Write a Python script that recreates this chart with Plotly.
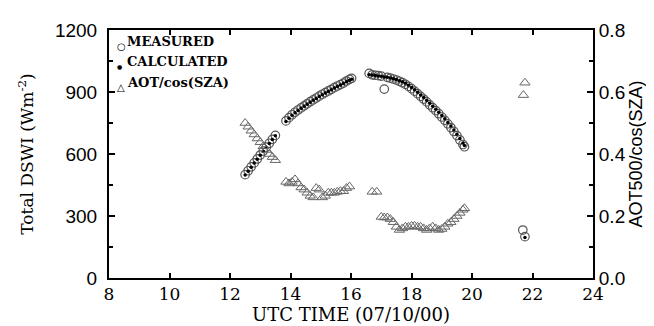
import plotly.graph_objects as go

# ---- data ----
meas_time = [12.5, 12.6, 12.7, 12.8, 12.9, 13.0, 13.1, 13.2, 13.3, 13.4, 13.5,
             13.85, 13.95, 14.05, 14.15, 14.25, 14.35, 14.45, 14.55, 14.65, 14.75, 14.85,
             14.95, 15.05, 15.15, 15.25, 15.35, 15.45, 15.55, 15.65, 15.75, 15.85, 15.95, 16.02,
             16.6, 16.7, 16.8, 16.9, 17.0, 17.1, 17.2, 17.3, 17.4, 17.5, 17.6, 17.7, 17.8, 17.9,
             18.0, 18.1, 18.2, 18.3, 18.4, 18.5, 18.6, 18.7, 18.8, 18.9, 19.0, 19.1, 19.2, 19.3,
             19.4, 19.5, 19.6, 19.7, 19.75,
             21.68, 21.75]
meas_dswi = [500, 519, 538, 557, 576, 595, 614, 633, 652, 671, 690,
             760, 776, 790, 802, 813, 823, 833, 843, 853, 862, 871,
             880, 889, 897, 905, 913, 921, 929, 936, 943, 953, 961, 966,
             990, 983, 981, 979, 977, 914, 971, 967, 963, 958, 952, 945, 937, 927,
             916, 904, 892, 879, 866, 852, 838, 824, 810, 795, 779, 763, 746, 728,
             709, 689, 668, 646, 635,
             232, 200]

calc_time = [12.5, 12.6, 12.7, 12.8, 12.9, 13.0, 13.1, 13.2, 13.3, 13.4, 13.5,
             13.85, 13.95, 14.05, 14.15, 14.25, 14.35, 14.45, 14.55, 14.65, 14.75, 14.85,
             14.95, 15.05, 15.15, 15.25, 15.35, 15.45, 15.55, 15.65, 15.75, 15.85, 15.95, 16.02,
             16.6, 16.7, 16.8, 16.9, 17.0, 17.1, 17.2, 17.3, 17.4, 17.5, 17.6, 17.7, 17.8, 17.9,
             18.0, 18.1, 18.2, 18.3, 18.4, 18.5, 18.6, 18.7, 18.8, 18.9, 19.0, 19.1, 19.2, 19.3,
             19.4, 19.5, 19.6, 19.7, 19.75,
             21.75]
calc_dswi = [498, 517, 536, 556, 575, 594, 613, 632, 651, 670, 688,
             757, 773, 787, 799, 811, 821, 831, 841, 851, 860, 869,
             878, 887, 895, 903, 911, 919, 927, 934, 941, 950, 957, 962,
             984, 982, 980, 978, 976, 973, 971, 968, 964, 960, 955, 949, 942, 933,
             922, 911, 899, 886, 873, 859, 845, 831, 817, 802, 786, 770, 753, 735,
             716, 696, 675, 653, 641,
             196]

aot_time = [12.5, 12.6, 12.7, 12.8, 12.9, 13.0, 13.1, 13.2, 13.3, 13.4, 13.5,
            13.85, 13.95, 14.05, 14.15, 14.25, 14.35, 14.45, 14.55, 14.65, 14.75, 14.85,
            14.95, 15.05, 15.15, 15.25, 15.35, 15.45, 15.55, 15.65, 15.75, 15.85, 15.95,
            16.7, 16.85,
            17.0, 17.1, 17.2, 17.3, 17.4, 17.5, 17.6, 17.7, 17.8, 17.9, 18.0, 18.1, 18.2,
            18.3, 18.4, 18.5, 18.6, 18.7, 18.8, 18.9, 19.0, 19.1, 19.2, 19.3, 19.4, 19.5,
            19.6, 19.7, 19.75,
            21.7, 21.75]
aot_value = [0.500, 0.488, 0.475, 0.463, 0.450, 0.438, 0.425, 0.413, 0.400, 0.390, 0.380,
             0.310, 0.305, 0.310, 0.318, 0.305, 0.292, 0.285, 0.275, 0.265, 0.260, 0.290,
             0.285, 0.260, 0.265, 0.275, 0.275, 0.275, 0.278, 0.280, 0.280, 0.290, 0.295,
             0.278, 0.278,
             0.197, 0.195, 0.195, 0.190, 0.180, 0.165, 0.155, 0.160, 0.165, 0.165, 0.168,
             0.168, 0.165, 0.165, 0.160, 0.155, 0.160, 0.165, 0.160, 0.155, 0.158, 0.165,
             0.175, 0.180, 0.190, 0.200, 0.210, 0.220, 0.225,
             0.590, 0.630]

legend_labels = ["MEASURED", "CALCULATED", "AOT/cos(SZA)"]
legend_symbols = ["○", "●", "△"]
legend_symbol_sizes = [10, 6, 10]

x_title = "UTC TIME (07/10/00)"
y_title = "Total DSWI (Wm<sup>-2</sup>)"
y2_title = "AOT500/cos(SZA)"

SERIF = "DejaVu Serif"
SANS = "Liberation Sans, Arial, sans-serif"

fig = go.Figure()
fig.add_trace(go.Scatter(x=meas_time, y=meas_dswi, mode="markers", name=legend_labels[0],
                         marker=dict(symbol="circle-open", size=8.5, color="#555555",
                                     line=dict(width=1.2, color="#555555"))))
fig.add_trace(go.Scatter(x=calc_time, y=calc_dswi, mode="markers", name=legend_labels[1],
                         marker=dict(symbol="circle", size=3.5, color="#000000")))
fig.add_trace(go.Scatter(x=aot_time, y=aot_value, mode="markers", name=legend_labels[2],
                         yaxis="y2",
                         marker=dict(symbol="triangle-up-open", size=9, color="#666666",
                                     line=dict(width=1, color="#666666"))))

# in-plot legend: small symbol followed by bold label
for i, (lab, sym, ssz) in enumerate(zip(legend_labels, legend_symbols, legend_symbol_sizes)):
    ypos = 0.955 - i * 0.084
    fig.add_annotation(xref="paper", yref="paper", x=0.012, y=ypos - 0.02,
                       xanchor="left", yanchor="middle", showarrow=False,
                       text=sym, font=dict(family=SERIF, size=ssz, color="black"))
    fig.add_annotation(xref="paper", yref="paper", x=0.034, y=ypos,
                       xanchor="left", yanchor="middle", showarrow=False,
                       text=lab, font=dict(family=SERIF, size=13, color="black",
                                           weight="bold"))

fig.update_layout(
    width=654, height=326,
    margin=dict(l=101, r=69, t=14, b=56),
    paper_bgcolor="white", plot_bgcolor="white",
    showlegend=False,
    xaxis=dict(range=[8, 24], tick0=8, dtick=2, ticks="inside", ticklen=5,
               tickwidth=1.5, tickcolor="black",
               showline=True, linewidth=2, linecolor="black", mirror="ticks",
               showgrid=False, zeroline=False,
               tickfont=dict(family=SERIF, size=17, color="black"),
               title=dict(text=x_title, font=dict(family=SERIF, size=18, color="black"),
                          standoff=5)),
    yaxis=dict(range=[0, 1200], tick0=0, dtick=300, ticks="inside", ticklen=6,
               tickwidth=1.5, tickcolor="black",
               minor=dict(dtick=150, ticks="inside", ticklen=4, tickcolor="black"),
               showline=True, linewidth=2, linecolor="black",
               showgrid=False, zeroline=False,
               tickfont=dict(family=SANS, size=19, color="black"),
               ticklabelstandoff=6,
               title=dict(text=y_title, font=dict(family=SERIF, size=17, color="black"),
                          standoff=17)),
    yaxis2=dict(range=[0, 0.8], tick0=0, dtick=0.2, tickformat=".1f",
                overlaying="y", side="right",
                ticks="inside", ticklen=6, tickwidth=1.5, tickcolor="black",
                minor=dict(dtick=0.1, ticks="inside", ticklen=4, tickcolor="black"),
                showline=True, linewidth=2, linecolor="black",
                showgrid=False, zeroline=False,
                tickfont=dict(family=SANS, size=19, color="black"),
                ticklabelstandoff=0,
                title=dict(text=y2_title, font=dict(family=SANS, size=18, color="black"),
                           standoff=2)),
)

fig.write_html("out.html")
